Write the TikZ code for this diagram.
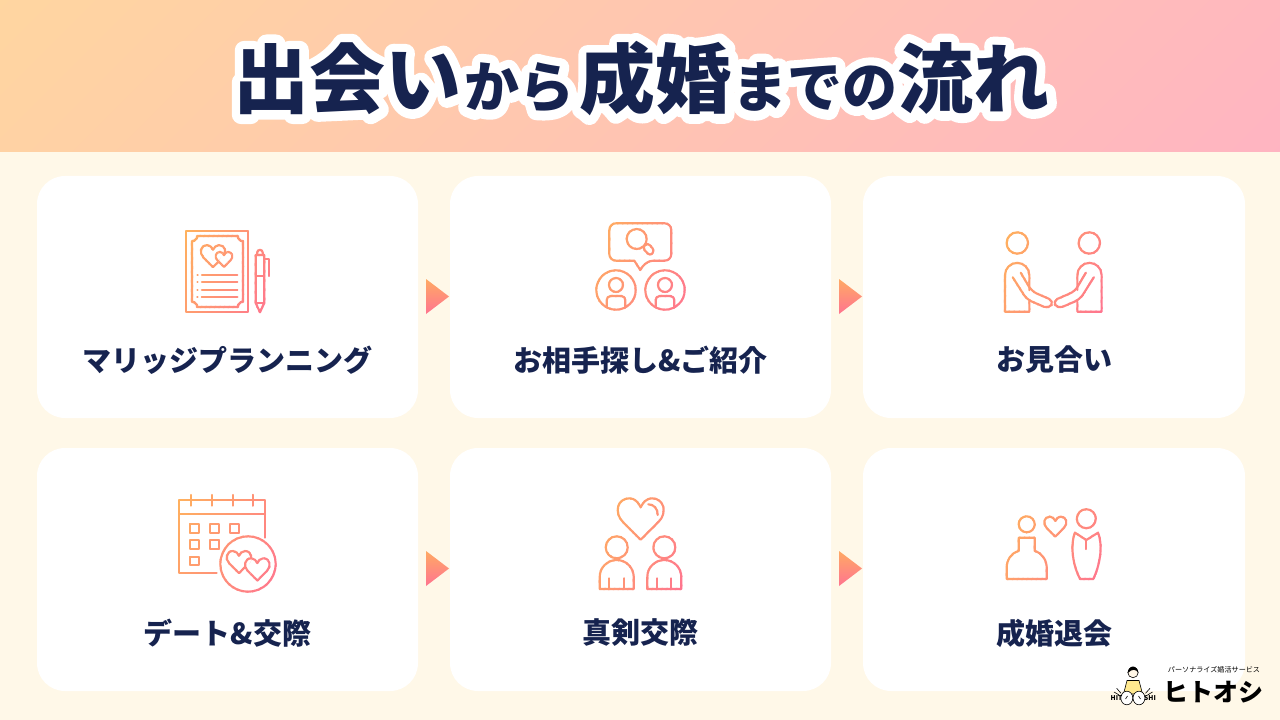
\documentclass[tikz,border=0pt]{standalone}
\usepackage{fontspec}
\usetikzlibrary{calc}
\setmainfont{Noto Sans CJK JP}
\newfontfamily\ttlbig{Noto Sans CJK JP}[UprightFont=* Bold,FakeBold=25]
\newfontfamily\ttlsmall{Noto Sans CJK JP}[UprightFont=* Bold,FakeBold=35]
\definecolor{navy}{HTML}{16234F}
\definecolor{bodybg}{HTML}{FFF8E8}
\definecolor{hdrA}{HTML}{FFD6A0}
\definecolor{hdrB}{HTML}{FFB4C2}
\definecolor{grA}{HTML}{FFB35C}
\definecolor{grB}{HTML}{FF7490}
\definecolor{skin}{HTML}{FFF6E6}
\definecolor{shirt}{HTML}{FFE98F}
\pgfdeclarehorizontalshading{hdrshade}{100bp}{color(0bp)=(hdrA); color(100bp)=(hdrB)}
\newcommand\px[1]{\pgfmathsetmacro\pxv{#1*0.75}\fontsize{\pxv}{\pxv}\selectfont}
\newcommand\hrt[4][]{\begin{scope}[shift={(#2,#3)},scale=#4]
 \draw[#1] (0,1.35) -- (-.8,.55) .. controls (-1.2,.15) and (-1.05,-.5) .. (-.5,-.5) .. controls (-.25,-.5) and (-.1,-.3) .. (0,-.1) .. controls (.1,-.3) and (.25,-.5) .. (.5,-.5) .. controls (1.05,-.5) and (1.2,.15) .. (.8,.55) -- cycle;
\end{scope}}
% draws an icon many times, each time clipped to one slanted strip with its own colour
\newcommand\gradicon[5]{%
 \pgfmathsetmacro\cA{#1+0.5*#2}\pgfmathsetmacro\cS{(#3-#1)+0.5*(#4-#2)}%
 \foreach \k in {0,...,27} {%
  \pgfmathsetmacro\pa{\cA+\cS*\k/28}\pgfmathsetmacro\pb{\cA+\cS*(\k+1.25)/28}%
  \pgfmathsetmacro\pp{100*(\k+.5)/28}%
  \begin{scope}[line width=1.6pt,line cap=round,line join=round,draw=grB!\pp!grA]
  \clip (\pa-0.5*#2,#2) -- (\pb-0.5*#2,#2) -- (\pb-0.5*#4,#4) -- (\pa-0.5*#4,#4) -- cycle;
  #5
  \end{scope}}}
\tikzset{
 card/.style={fill=white,rounded corners=21pt,draw=none},
 steplabel/.style={text=navy,font=\bfseries\px{29},inner sep=0pt,anchor=center},
 arrowtri/.style={top color=grA!85!grB,bottom color=grB,draw=none},
 erase/.style={fill=white},
 logoink/.style={draw=black,line width=.45pt},
}
\newcommand\titleplain{{\px{76}出会い}\hspace{2pt}{\px{55}から}\hspace{4pt}{\px{76}成婚}\hspace{.5pt}{\px{55}までの}\hspace{0pt}{\px{76}流れ}}
\newcommand\titleout{{\ttlbig\px{76}出会い}\hspace{2pt}{\ttlsmall\px{55}から}\hspace{4pt}{\ttlbig\px{76}成婚}\hspace{.5pt}{\ttlsmall\px{55}までの}\hspace{0pt}{\ttlbig\px{76}流れ}}
\begin{document}
\begin{tikzpicture}[x=.75pt,y=-.75pt]
\useasboundingbox (0,0) rectangle (1280,720);
\fill[bodybg] (0,0) rectangle (1280,720);
\begin{scope}
 \clip (0,0) rectangle (1280,152);
 \pgftransformshift{\pgfpointxy{640}{76}}
 \pgftransformrotate{-45}
 \pgftransformscale{7.7}
 \pgflowlevelsynccm
 \pgftext{\pgfuseshading{hdrshade}}
\end{scope}
\begin{scope}[line join=round]
\node[text=white,inner sep=0pt] (titlebg) at (641.5,79) {\titleout};
\end{scope}
\node[text=navy,font=\bfseries,inner sep=0pt] (title) at (641.5,79) {\titleplain};
% cards
\fill[card] (37,176) rectangle (418,418);
\fill[card] (450,176) rectangle (831,418);
\fill[card] (863,176) rectangle (1245,418);
\fill[card] (37,448) rectangle (418,691);
\fill[card] (450,448) rectangle (831,691);
\fill[card] (863,448) rectangle (1245,691);
% arrows
\shade[arrowtri] (426,279) -- (449,296.5) -- (426,314) -- cycle;
\shade[arrowtri] (839,279) -- (862,296.5) -- (839,314) -- cycle;
\shade[arrowtri] (426,551) -- (449,568.5) -- (426,586) -- cycle;
\shade[arrowtri] (839,551) -- (862,568.5) -- (839,586) -- cycle;
% icons
\gradicon{184}{229}{271}{314}{
 \draw (186,231) rectangle (248,312);
 \draw (197,236) -- (238,236) -- (238,238) -- (241,241) -- (243,241) -- (243,302) -- (241,302) -- (238,305) -- (238,307) -- (197,307) -- (197,305) -- (194,302) -- (192,302) -- (192,241) -- (194,241) -- (197,238) -- cycle;
 \hrt{213}{251}{11.9}
 \hrt[erase]{224}{256}{8.1}
 \foreach \y in {275,282.3,290,297.3} {\draw (197.5,\y) -- (197.6,\y); \draw (202,\y) -- (237.3,\y);}
 \draw (255.7,303) -- (255.7,255) -- (264.3,255) -- (264.3,303) -- (260,312.3) -- cycle;
 \draw (255.7,303) -- (264.3,303);
 \draw (255.7,276) -- (264.3,276);
 \draw (257.3,255) -- (257.3,252.5) arc (180:360:2.7) -- (262.7,255);
 \draw (264.7,259.3) -- (269,259.3) -- (269,276);
}
\gradicon{594}{221}{687}{312}{
 \draw[rounded corners=5] (634.3,260.7) -- (609.3,260.7) -- (609.3,223.3) -- (671.3,223.3) -- (671.3,260.7) -- (646.7,260.7) [sharp corners] -- (640.3,270) -- (634.3,260.7);
 \draw (636.7,239) circle (10);
 \draw[rounded corners=2.5] (642.3,247.7) -- (647.7,242.7) -- (654.7,250.7) -- (650,256) -- cycle;
 \foreach \c in {616,665} {
  \draw (\c,290) circle (19.7);
  \draw (\c,285) circle (7);
  \draw[rounded corners=3] (\c-9.3,307.4) -- (\c-9.3,296) -- (\c+9.3,296) -- (\c+9.3,307.4);
 }
}
\gradicon{1003}{230}{1104}{314}{
 \draw (1017.3,243) circle (10.7);
 \draw (1089.3,243) circle (10.7);
 \draw (1029.3,290) -- (1029.3,275) arc (0:-180:12.15) -- (1005,311.7) -- (1029.3,311.7) -- (1029.3,301.7);
 \draw[rounded corners=4] (1012.7,277.3) -- (1026.7,299.3) -- (1049,309) -- (1054,301) -- (1031.7,291.3) -- (1020.7,272.7);
 \draw (1077.3,290) -- (1077.3,275) arc (180:360:12.15) -- (1101.6,311.7) -- (1077.3,311.7) -- (1077.3,301.7);
 \draw[rounded corners=4] (1093.9,277.3) -- (1079.9,299.3) -- (1057.6,309) -- (1052.6,301) -- (1074.9,291.3) -- (1085.9,272.7);
}
\gradicon{177}{493}{278}{594}{
 \draw (216.7,573.3) -- (179.3,573.3) -- (179.3,500) -- (265,500) -- (265,537.7);
 \draw (179.3,514) -- (265,514);
 \foreach \x in {191,211.7,232.7,253.3} \draw (\x,495) -- (\x,505.7);
 \foreach \x/\y in {194.3/528.3,214.7/528.3,234.7/528.3,194.3/544.7,214.7/544.7,194.3/561} \draw (\x-4.3,\y-4.3) rectangle (\x+4.3,\y+4.3);
 \draw (248,564) circle (27.7);
 \hrt{239}{557}{12}
 \hrt[erase]{257.3}{564.3}{12}
}
\gradicon{598}{496}{684}{591}{
 \hrt{640.7}{509.5}{22.4}
 \draw (648.3,504.3) .. controls (654,504.3) and (658,509) .. (657.7,515);
 \foreach \c in {616.7,664.3} {
  \draw (\c,547.3) circle (11);
  \draw (\c-17,589) -- (\c-17,577) arc (180:360:17) -- (\c+17,589) -- cycle;
  \draw (\c-7.3,578.3) -- (\c-7.3,589);
  \draw (\c+7,578.3) -- (\c+7,589);
 }
}
\gradicon{1005}{508}{1102}{581}{
 \draw (1026.7,524.3) circle (8);
 \hrt{1055.3}{522}{10.8}
 \draw (1086.3,518.7) circle (9.5);
 \draw (1018.7,537.7) -- (1018.7,551) .. controls (1011,553) and (1006.7,560) .. (1006.7,568) -- (1006.7,579) -- (1046.7,579) -- (1046.7,568) .. controls (1046.7,560) and (1042,553) .. (1034.7,551) -- (1034.7,537.7) -- cycle;
 \draw (1075,532.7) -- (1086.3,540) -- (1098,532.7) .. controls (1101,540) and (1101,550) .. (1100,556) .. controls (1099,565) and (1096,573) .. (1093.3,579) -- (1080,579) .. controls (1077,573) and (1074,565) .. (1073,556) .. controls (1072,550) and (1072,540) .. (1075,532.7) -- cycle;
 \draw (1086.3,540) -- (1086.3,549);
}
% labels
\node[steplabel] (l1) at (227.5,360) {マリッジプランニング};
\node[steplabel] (l2) at (640.5,360) {お相手探し\&ご紹介};
\node[steplabel] (l3) at (1054,360) {お見合い};
\node[steplabel] (l4) at (227.5,633) {デート\&交際};
\node[steplabel] (l5) at (640.5,633) {真剣交際};
\node[steplabel] (l6) at (1054,633) {成婚退会};
% logo
\node[inner sep=0pt,text=black,font=\px{7.1}] (lgsub) at (1214,670) {パーソナライズ婚活サービス};
\node[inner sep=0pt,text=black,font=\bfseries\px{25}] (lgname) at (1213.5,692) {ヒトオシ};
\fill[shirt,logoink] (1127,680.5) -- (1139,680.5) -- (1142.5,694) -- (1123.5,694) -- cycle;
\draw[logoink,fill=skin] (1133,672.5) circle (5.2);
\fill[black] (1127.8,673) arc (180:360:5.2 and 6.5) .. controls (1136.5,669) and (1132,668.5) .. (1127.8,673) -- cycle;
\fill[white,logoink] (1126.8,698) ellipse (6 and 6.8);
\fill[white,logoink] (1139,698) ellipse (6 and 6.8);
\draw[logoink] (1125.5,699) -- (1127.5,696) (1140.5,699) -- (1138.5,696);
\draw[logoink] (1116.7,688.3) -- (1121,693.3) (1114,692) -- (1119,695) (1150,688.3) -- (1145.5,693.3) (1152.5,692) -- (1147.5,695);
\node[inner sep=0pt,text=black,font=\bfseries\px{6.6}] (lgh) at (1116.5,698.5) {HIT};
\node[inner sep=0pt,text=black,font=\bfseries\px{6.6}] (lgs) at (1150,698.5) {SHI};
\end{tikzpicture}
\end{document}
